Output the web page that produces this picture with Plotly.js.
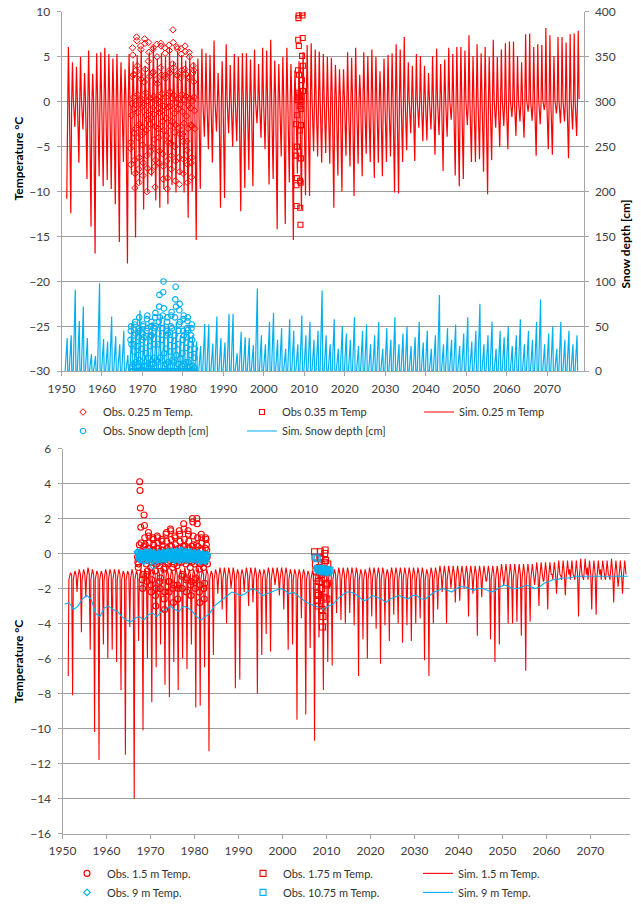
<!DOCTYPE html>
<html><head><meta charset="utf-8">
<script src="https://cdn.plot.ly/plotly-3.0.1.min.js"></script>
<style>html,body{margin:0;padding:0;background:#fff;width:641px;height:907px;overflow:hidden}#chart{width:641px;height:907px;display:block;overflow:hidden}</style>
</head><body><div id="chart"></div>
<script>
// ---------------- DATA ----------------
const simStartYear = 1951;
// Top chart: simulated 0.25 m temperature, annual summer maxima and winter minima (°C)
const sim025Max = [6.1,4.4,3.9,5.0,3.2,5.7,3.1,5.4,5.5,6.0,5.3,4.8,5.3,4.4,3.6,5.3,
  4.5,5.2,5.8,4.0,5.5,6.2,4.8,5.4,5.0,6.0,4.5,5.6,5.2,4.6,5.0,4.4,
  4.8,5.9,5.4,5.2,6.8,3.2,4.5,6.4,4.1,5.3,5.0,5.4,5.4,4.7,5.8,4.2,6.0,5.7,6.9,4.6,4.2,5.0,6.0,4.2,3.5,4.5,5.5,6.3,6.5,5.8,5.6,
  5.3,5.0,4.9,4.1,3.6,3.6,5.5,4.9,6.0,3.0,5.5,5.1,5.8,5.0,3.4,4.8,5.2,5.4,6.4,5.8,7.2,4.4,4.0,5.3,5.1,4.0,3.2,5.1,5.9,4.2,4.7,6.0,
  5.3,6.1,6.1,5.7,7.4,5.1,6.4,5.4,6.1,5.0,6.9,5.0,5.8,6.5,6.7,6.7,5.1,4.4,7.5,7.6,6.1,6.4,6.3,8.2,7.4,5.1,7.2,7.2,6.6,7.5,7.6,7.9];
const sim025Min = [-10.8,-12.4,-2.8,-6.8,-3.1,-8.6,-13.9,-16.9,-8.3,-9.4,-8.7,-9.7,-11.4,-15.6,-6.7,-18.0,
  -8.1,-15.1,-9.2,-12.0,-10.1,-8.3,-11.0,-11.8,-9.7,-11.4,-9.3,-10.1,-8.1,-10.1,-12.9,-10.0,
  -15.4,-9.7,-3.9,-5.3,-6.8,-3.3,-11.8,-10.7,-3.5,-5.0,-4.4,-12.2,-9.6,-7.6,-9.4,-2.4,-4.0,-5.3,-9.2,-8.6,-14.2,-6.1,-13.6,-9.0,-15.4,-8.0,-12.0,-10.4,-10.5,-5.5,-6.1,
  -6.8,-5.7,-6.9,-11.8,-8.2,-10.0,-6.0,-7.2,-10.5,-6.9,-8.3,-5.8,-6.7,-8.5,-6.8,-8.3,-6.7,-6.1,-10.1,-10.2,-6.7,-5.4,-3.5,-6.6,-2.9,-4.4,-4.3,-3.1,-5.9,-3.7,-7.7,-3.9,
  -2.0,-8.2,-9.4,-8.6,-2.6,-6.7,-6.7,-6.4,-7.8,-10.3,-6.5,-2.9,-5.0,-2.7,-5.3,-1.7,-3.8,-2.2,-4.0,-1.1,-2.1,-6.0,-2.5,-0.9,-5.3,-5.9,-1.3,-2.4,-2.2,-6.3,-3.1,-3.8];
const sim025SpringLevel = -0.3;   // level between winter minimum and summer peak
const sim025AutumnLevel = 0.3;    // level after the summer peak

// Simulated snow depth, annual maxima (cm)
const simSnowMax = [37,40,91,56,72,37,19,17,98,36,33,61,39,30,45,18,
  53,48,68,45,40,55,50,60,58,50,45,55,40,50,45,40,
  33,28,53,52,31,61,37,32,64,64,20,44,38,37,29,92,40,30,55,65,35,48,25,58,45,30,62,40,55,35,45,
  90,40,30,58,25,50,42,35,60,28,45,52,30,40,55,25,48,35,60,30,42,50,28,38,55,32,45,25,40,85,30,48,
  35,52,28,42,60,33,45,75,30,40,55,25,45,38,50,28,40,58,30,45,35,55,80,30,42,50,25,55,35,45,30,40];

// Observed 0.25 m temperature, monthly (°C), years 1967-1982
const obsYears = [1967,1968,1969,1970,1971,1972,1973,1974,1975,1976,1977,1978,1979,1980,1981,1982];
const obs025Values = [
  [-5.2,-7.0,-4.5,-1.5,-0.2,2.8,6.0,5.2,3.0,0.5,-0.8,-3.5],
  [-6.5,-9.6,-8.0,-3.0,-0.3,3.5,7.2,6.8,4.0,0.8,-1.2,-4.0],
  [-7.5,-9.0,-6.2,-2.5,0.2,3.0,6.2,5.8,2.5,0.3,-0.6,-2.8],
  [-4.8,-8.2,-6.8,-3.5,-0.4,2.2,7.0,6.5,3.6,1.0,-1.5,-3.2],
  [-6.0,-10.0,-7.4,-2.0,0.1,4.5,6.6,5.5,2.8,0.4,-0.9,-2.5],
  [-5.5,-7.8,-5.0,-1.8,-0.2,3.2,5.8,6.0,3.3,0.6,-1.4,-4.2],
  [-7.2,-9.5,-6.5,-2.8,0.3,2.5,6.4,5.0,2.0,0.2,-0.7,-3.0],
  [-4.0,-6.8,-5.5,-1.2,0.0,3.8,6.5,6.2,3.0,0.9,-1.0,-2.2],
  [-5.8,-8.6,-7.2,-3.2,-0.5,2.9,6.0,5.4,2.6,0.5,-1.8,-3.8],
  [-6.6,-9.7,-8.5,-4.5,-0.6,3.4,6.3,5.7,3.2,1.1,-0.5,-2.7],
  [-4.6,-7.5,-6.0,-2.2,0.4,4.2,8.0,6.6,3.8,0.7,-1.3,-3.4],
  [-5.0,-8.8,-6.6,-2.6,-0.1,3.0,6.1,5.9,2.9,0.3,-0.8,-2.9],
  [-6.2,-9.2,-7.8,-3.6,-0.3,2.7,5.9,5.3,3.5,0.8,-1.1,-3.6],
  [-4.4,-8.0,-6.4,-2.4,0.2,3.6,6.2,5.6,3.1,0.6,-1.6,-4.4],
  [-5.4,-9.0,-7.0,-3.0,-0.4,2.6,5.5,5.0,2.7,0.4,-0.7,-2.6],
  [-6.8,-8.4,-6.2,-2.7,0.1,3.2,4.0,3.5,2.2,0.5,-1.0,-3.0]];

// Observed snow depth, monthly (cm), years 1967-1982
const obsSnowValues = [
  [35,45,50,30,5,0,0,0,0,8,22,30],
  [40,52,55,42,10,0,0,0,0,5,18,28],
  [38,48,60,45,12,0,0,0,2,10,25,35],
  [42,50,52,38,6,0,0,0,0,6,20,32],
  [45,58,62,48,15,0,0,0,0,8,28,38],
  [40,50,55,40,8,0,0,0,0,4,15,30],
  [48,60,65,50,12,0,0,0,0,10,30,42],
  [55,72,85,60,15,0,0,0,0,12,35,48],
  [62,88,100,70,20,0,0,0,0,8,25,40],
  [45,55,60,42,10,0,0,0,0,6,22,35],
  [50,62,66,48,12,0,0,0,0,10,28,40],
  [60,80,94,72,18,0,0,0,0,8,30,45],
  [52,68,75,55,14,0,0,0,0,6,20,35],
  [45,58,62,40,8,0,0,0,0,10,26,38],
  [48,56,60,46,10,0,0,0,0,5,18,30],
  [40,48,52,35,6,0,0,0,0,4,15,25]];

// Observed 0.35 m temperature (°C)
const obs035Time = [2007.95,2008.0,2008.05,2008.1,2008.15,2008.2,2008.25,2008.3,2008.35,2008.4,2008.45,2008.5,2008.55,2008.6,2008.65,2008.7,2008.75,2008.8,2008.85,2008.9,2008.95,2009.0,2009.05,2009.1,2009.15,2009.2,2009.25,2009.3,2009.35,2009.4,2009.45,2009.5,2009.55,2009.6,2009.65,2009.7];
const obs035Value = [-2.5,-6.0,-9.3,-11.6,-8.5,-5.0,-1.5,0.2,0.5,1.0,3.5,6.9,9.3,9.6,6.2,3.0,0.8,0.2,-0.5,-3.2,-8.8,-11.8,-13.7,-9.0,-6.3,-2.6,-0.8,0.0,0.6,2.4,5.1,9.9,9.6,7.1,4.0,1.2];

// Bottom chart: simulated 1.5 m temperature, annual minima and maxima (°C)
const sim15Min = [-7.0,-8.1,-2.2,-4.5,-2.5,-5.5,-10.2,-11.8,-5.2,-6.0,-5.5,-6.2,-7.8,-11.5,-4.2,-14.0,-5.0,-10.1,-6.0,-8.5,-6.5,-5.2,-7.5,-8.2,-6.2,-7.8,-6.0,-6.6,-5.2,-8.8,-8.7,-6.5,-11.3,
  -5.8,-2.3,-3.2,-4.0,-2.0,-7.7,-7.2,-2.2,-3.0,-2.8,-8.0,-5.8,-4.6,-5.6,-1.8,-2.4,-3.2,-5.5,-5.2,-9.5,-3.7,-9.2,-5.4,-10.7,-4.8,-7.8,-6.2,-6.4,-3.4,-3.8,
  -4.0,-3.4,-4.1,-7.0,-4.9,-6.0,-3.6,-4.3,-6.3,-4.1,-5.0,-3.5,-4.0,-5.1,-4.1,-5.0,-4.0,-3.7,-6.1,-7.0,-4.0,-3.2,-2.2,-4.0,-2.0,-2.8,-2.7,-2.0,-3.6,-2.3,-4.7,-2.5,
  -1.6,-4.9,-6.2,-5.2,-1.8,-4.0,-4.0,-3.9,-4.7,-6.7,-3.9,-1.8,-3.0,-1.6,-3.2,-1.2,-2.3,-1.3,-2.4,-0.9,-1.3,-3.6,-1.5,-0.8,-3.2,-3.5,-0.9,-1.4,-1.3,-2.8,-1.9,-2.3];
const sim15Max = [-1.1,-1.0,-0.9,-0.9,-0.8,-0.9,-1.0,-1.0,-0.9,-0.9,
  -0.9,-0.9,-1.0,-1.0,-0.9,-1.0,-0.9,-0.9,-0.8,-0.9,
  -0.9,-0.8,-0.9,-0.9,-0.8,-0.9,-0.8,-0.9,-0.9,-0.8,
  -0.9,-0.9,-1.0,-0.9,-0.8,-0.8,-0.8,-0.8,-0.9,-0.9,
  -0.8,-0.8,-0.8,-0.9,-0.9,-0.8,-0.8,-0.8,-0.8,-0.8,
  -0.9,-0.9,-0.9,-0.9,-1.0,-1.0,-1.0,-0.9,-0.9,-0.9,
  -0.9,-0.8,-0.8,-0.8,-0.8,-0.8,-0.9,-0.9,-0.8,-0.8,
  -0.8,-0.8,-0.9,-0.8,-0.8,-0.8,-0.8,-0.8,-0.8,-0.8,
  -0.8,-0.9,-0.8,-0.8,-0.7,-0.7,-0.7,-0.7,-0.7,-0.7,
  -0.7,-0.7,-0.7,-0.7,-0.7,-0.7,-0.7,-0.7,-0.6,-0.6,
  -0.6,-0.6,-0.6,-0.6,-0.6,-0.6,-0.5,-0.5,-0.5,-0.5,
  -0.5,-0.4,-0.4,-0.4,-0.4,-0.4,-0.3,-0.3,-0.4,-0.4,
  -0.4,-0.4,-0.4,-0.3,-0.4,-0.4,-0.4];
const sim15RecoveryLevel = -1.5;
const sim15LateLevel = -1.2;

// Simulated 9 m temperature, annual (°C), 1950-2078
const sim9StartYear = 1950;
const sim9Values = [-2.9,-2.8,-3.2,-3.0,-2.6,-2.4,-2.6,-3.4,-3.6,-3.1,-3.0,-3.2,-3.3,-3.6,-3.8,-3.9,-3.7,-3.6,-3.8,-3.5,-3.4,-3.6,-3.3,-3.2,-3.0,-3.2,-3.3,-3.0,-3.1,-3.3,-3.6,-3.8,-3.6,-3.4,-3.0,-2.8,-2.6,-2.4,-2.2,-2.3,-2.4,-2.3,-2.1,-2.0,-2.2,-2.4,-2.3,-2.2,-2.1,-2.0,-2.1,-2.3,-2.2,-2.4,-2.6,-2.8,-2.9,-3.0,-3.1,-3.2,-3.0,-2.9,-2.6,-2.4,-2.2,-2.2,-2.3,-2.5,-2.7,-2.6,-2.4,-2.5,-2.6,-2.8,-2.6,-2.5,-2.4,-2.5,-2.6,-2.4,-2.4,-2.6,-2.6,-2.4,-2.2,-2.1,-2.0,-2.1,-2.2,-2.0,-1.9,-1.9,-2.0,-2.1,-2.0,-2.0,-2.1,-2.2,-2.1,-1.9,-1.8,-1.9,-2.0,-2.0,-1.9,-1.8,-1.9,-2.0,-1.9,-1.7,-1.6,-1.5,-1.5,-1.4,-1.4,-1.4,-1.3,-1.3,-1.3,-1.3,-1.3,-1.3,-1.3,-1.3,-1.3,-1.3,-1.3,-1.3,-1.3];

// Observed 1.5 m temperature, monthly (°C), 1967-1982
const obs15Values = [
  [-0.2,-0.5,-0.8,-0.6,-0.3,0.5,4.1,3.6,2.6,1.5,0.6,0.1],
  [-0.4,-1.5,-2.0,-1.2,-0.3,0.4,2.2,1.6,0.9,0.5,0.2,-0.2],
  [-0.6,-1.2,-1.6,-1.0,-0.4,0.3,1.2,1.0,0.6,0.3,0.0,-0.3],
  [-0.8,-1.8,-2.2,-1.5,-0.5,0.2,0.9,0.8,0.5,0.2,-0.1,-0.4],
  [-1.0,-2.4,-3.0,-2.0,-0.6,0.3,1.0,0.9,0.6,0.3,0.0,-0.5],
  [-0.7,-1.6,-2.0,-1.4,-0.4,0.2,0.8,0.7,0.4,0.2,-0.1,-0.4],
  [-0.9,-2.6,-3.2,-2.2,-0.8,0.1,1.1,1.2,0.7,0.3,0.0,-0.5],
  [-0.6,-1.6,-2.2,-1.6,-0.4,0.4,1.4,1.3,0.8,0.4,0.1,-0.3],
  [-0.8,-2.0,-2.8,-1.8,-0.6,0.2,1.0,0.9,0.5,0.2,-0.1,-0.4],
  [-0.7,-1.8,-2.6,-2.0,-0.5,0.3,1.3,1.1,0.7,0.3,0.0,-0.3],
  [-0.5,-1.3,-2.0,-1.2,-0.3,0.4,1.7,1.4,0.8,0.4,0.1,-0.2],
  [-0.6,-1.5,-2.2,-1.4,-0.4,0.3,1.3,1.1,0.7,0.3,0.0,-0.4],
  [-0.8,-1.8,-2.4,-1.6,-0.5,0.4,2.0,1.8,1.0,0.5,0.1,-0.3],
  [-0.6,-1.5,-2.0,-1.4,-0.4,0.5,2.0,1.7,0.9,0.4,0.0,-0.5],
  [-0.9,-2.2,-2.8,-1.8,-0.6,0.2,1.1,0.9,0.6,0.2,-0.1,-0.5],
  [-0.8,-2.0,-2.6,-1.7,-0.5,0.3,0.9,0.8,0.5,0.2,-0.2,-0.6]];

// Observed 9 m temperature, monthly (°C), 1967-1982
const obs9Values = [
  [0.1,0.05,0.0,-0.1,-0.2,-0.3,-0.35,-0.3,-0.2,-0.1,0.0,0.05],
  [0.0,-0.05,-0.15,-0.25,-0.4,-0.45,-0.35,-0.2,-0.05,0.05,0.1,0.0],
  [0.05,0.0,-0.1,-0.2,-0.3,-0.4,-0.3,-0.25,-0.1,0.0,0.1,0.1],
  [0.0,-0.1,-0.2,-0.3,-0.35,-0.4,-0.7,-0.3,-0.15,-0.05,0.05,0.0],
  [-0.05,-0.1,-0.2,-0.25,-0.35,-0.4,-0.35,-0.2,-0.1,0.0,0.05,0.0],
  [0.0,-0.05,-0.1,-0.2,-0.3,-0.4,-0.3,-0.2,-0.1,0.0,0.05,0.05],
  [0.05,0.0,-0.1,-0.2,-0.3,-0.35,-0.3,-0.2,-0.05,0.0,0.1,0.1],
  [0.1,0.05,-0.05,-0.15,-0.25,-0.3,-0.3,-0.2,-0.1,0.05,0.15,0.1],
  [0.05,0.0,-0.1,-0.2,-0.3,-0.4,-0.35,-0.25,-0.1,0.0,0.1,0.15],
  [0.1,0.0,-0.1,-0.25,-0.35,-0.4,-0.3,-0.2,-0.05,0.05,0.15,0.2],
  [0.15,0.05,-0.05,-0.15,-0.3,-0.35,-0.3,-0.2,-0.05,0.05,0.1,0.1],
  [0.1,0.0,-0.1,-0.2,-0.3,-0.4,-0.3,-0.2,-0.1,0.0,0.1,0.1],
  [0.05,0.0,-0.1,-0.2,-0.3,-0.35,-0.3,-0.2,-0.1,0.0,0.05,0.05],
  [0.0,-0.05,-0.15,-0.25,-0.35,-0.4,-0.35,-0.2,-0.1,0.0,0.05,0.0],
  [0.0,-0.1,-0.2,-0.3,-0.4,-0.45,-0.4,-0.3,-0.2,-0.1,0.0,-0.05],
  [-0.1,-0.15,-0.25,-0.35,-0.4,-0.45,-0.4,-0.3,-0.2,-0.1,-0.05,-0.1]];

// Observed 1.75 m temperature (°C)
const obs175Time = [2007.3,2007.4,2007.5,2007.6,2007.7,2007.8,2007.9,2008.0,2008.1,2008.2,2008.3,2008.4,2008.5,2008.6,2008.7,2008.8,2008.9,2009.0,2009.1,2009.2,2009.3,2009.4,2009.5,2009.6,2009.7,2009.8,2009.9,2010.0,2010.1,2010.2,2010.3];
const obs175Value = [0.1,-0.2,-0.6,-1.0,-1.4,-1.9,-2.3,-2.7,-3.0,-2.4,-1.6,-0.8,-0.2,0.1,-0.3,-1.2,-2.0,-3.2,-4.2,-3.6,-2.5,-1.4,-0.5,0.0,0.2,-0.4,-1.1,-1.8,-2.6,-1.7,-0.6];

// Observed 10.75 m temperature (°C)
const obs1075Time = [2007.6,2007.9,2008.0,2008.2,2008.4,2008.6,2008.8,2009.0,2009.2,2009.4,2009.6,2009.8,2010.0,2010.2,2010.4,2010.6,2010.8];
const obs1075Value = [-0.2,-0.3,-0.85,-0.9,-0.95,-1.0,-0.9,-0.85,-0.95,-1.05,-1.0,-0.9,-0.95,-1.0,-1.1,-1.0,-0.95];

const decadeTicks = [1950,1960,1970,1980,1990,2000,2010,2020,2030,2040,2050,2060,2070];

// ---------------- BUILD ----------------
const RED = '#FF0000', BLUE = '#00B0F0';
const FONT = 'Lato, "Liberation Sans", sans-serif';
const W = 641, H = 907;
const px = v => v / W, py = v => 1 - v / H;

function monthly(years, rows) {
  const x = [], y = [];
  rows.forEach((row, i) => row.forEach((v, m) => { x.push(years[i] + (m + 0.5) / 12); y.push(v); }));
  return {x, y};
}

const t025 = {x: [], y: []};
sim025Min.forEach((mn, i) => {
  const yr = simStartYear + i;
  t025.x.push(yr + 0.3, yr + 0.5, yr + 0.7, yr + 0.92);
  t025.y.push(mn, sim025SpringLevel, sim025Max[i], sim025AutumnLevel);
});

const snow = {x: [], y: []};
simSnowMax.forEach((mx, i) => {
  const yr = simStartYear + i;
  snow.x.push(yr - 0.1, yr + 0.4, yr + 0.55);
  snow.y.push(0, mx, 0);
});

const t15 = {x: [], y: []};
sim15Min.forEach((mn, i) => {
  const yr = simStartYear + i;
  t15.x.push(yr + 0.3, yr + 0.45, yr + 0.8, yr + 1.08);
  t15.y.push(mn, sim15RecoveryLevel, sim15Max[i], sim15LateLevel);
});

const t9 = {x: sim9Values.map((v, i) => sim9StartYear + i + 0.5), y: sim9Values};

const o025 = monthly(obsYears, obs025Values);
const oSnow = monthly(obsYears, obsSnowValues);
const o15 = monthly(obsYears, obs15Values);
const o9 = monthly(obsYears, obs9Values);

const data = [
  {x: t025.x, y: t025.y, type: 'scatter', mode: 'lines', name: 'Sim. 0.25 m Temp', line: {color: RED, width: 1.2}, xaxis: 'x', yaxis: 'y', legend: 'legend3', legendrank: 1},
  {x: snow.x, y: snow.y, type: 'scatter', mode: 'lines', name: 'Sim. Snow depth [cm]', line: {color: BLUE, width: 1.2}, xaxis: 'x', yaxis: 'y2', legend: 'legend2', legendrank: 2},
  {x: oSnow.x, y: oSnow.y, type: 'scatter', mode: 'markers', name: 'Obs. Snow depth [cm]', marker: {symbol: 'circle-open', color: BLUE, size: 5.5, line: {width: 1.1}}, xaxis: 'x', yaxis: 'y2', legend: 'legend', legendrank: 2},
  {x: o025.x, y: o025.y, type: 'scatter', mode: 'markers', name: 'Obs. 0.25 m Temp.', marker: {symbol: 'diamond-open', color: RED, size: 5, line: {width: 1}}, xaxis: 'x', yaxis: 'y', legend: 'legend', legendrank: 1},
  {x: obs035Time, y: obs035Value, type: 'scatter', mode: 'markers', name: 'Obs 0.35 m Temp', marker: {symbol: 'square-open', color: RED, size: 5, line: {width: 1.1}}, xaxis: 'x', yaxis: 'y', legend: 'legend2', legendrank: 1},

  {x: t15.x, y: t15.y, type: 'scatter', mode: 'lines', name: 'Sim. 1.5 m Temp.', line: {color: RED, width: 1.1}, xaxis: 'x2', yaxis: 'y3', legend: 'legend6', legendrank: 1},
  {x: t9.x, y: t9.y, type: 'scatter', mode: 'lines', name: 'Sim. 9 m Temp.', line: {color: BLUE, width: 1.1}, xaxis: 'x2', yaxis: 'y3', legend: 'legend6', legendrank: 2},
  {x: o15.x, y: o15.y, type: 'scatter', mode: 'markers', name: 'Obs. 1.5 m Temp.', marker: {symbol: 'circle-open', color: RED, size: 6, line: {width: 1.1}}, xaxis: 'x2', yaxis: 'y3', legend: 'legend4', legendrank: 1},
  {x: o9.x, y: o9.y, type: 'scatter', mode: 'markers', name: 'Obs. 9 m Temp.', marker: {symbol: 'diamond-open', color: BLUE, size: 5, line: {width: 1.1}}, xaxis: 'x2', yaxis: 'y3', legend: 'legend4', legendrank: 2},
  {x: obs175Time, y: obs175Value, type: 'scatter', mode: 'markers', name: 'Obs. 1.75 m Temp.', marker: {symbol: 'square-open', color: RED, size: 6, line: {width: 1.1}}, xaxis: 'x2', yaxis: 'y3', legend: 'legend5', legendrank: 1},
  {x: obs1075Time, y: obs1075Value, type: 'scatter', mode: 'markers', name: 'Obs. 10.75 m Temp.', marker: {symbol: 'square-open', color: BLUE, size: 6, line: {width: 1.1}}, xaxis: 'x2', yaxis: 'y3', legend: 'legend5', legendrank: 2}
];

const tickFont = {family: FONT, size: 12, color: '#404040'};
const GRID = '#9E9E9E', AXL = '#A6A6A6';
const xCommon = {range: [1950, 2079], tickvals: decadeTicks, ticktext: decadeTicks.map(String), showgrid: false, zeroline: false,
  showline: true, linecolor: AXL, linewidth: 1, ticks: 'outside', ticklen: 4, tickcolor: AXL, tickfont: tickFont, ticklabelstandoff: 2};
const legFont = {family: FONT, size: 11, color: '#333333'};
function leg(x, y) { return {x: px(x), y: py(y), xanchor: 'left', yanchor: 'top', orientation: 'v', font: legFont, bgcolor: 'rgba(0,0,0,0)', itemwidth: 30, tracegroupgap: 0}; }
const titleFont = {family: FONT, size: 12, color: '#000'};

const layout = {
  width: W, height: H, margin: {l: 0, r: 0, t: 0, b: 0}, paper_bgcolor: '#fff', plot_bgcolor: '#fff',
  xaxis: Object.assign({}, xCommon, {domain: [px(61.5), px(583.5)], anchor: 'y'}),
  yaxis: {domain: [py(375), py(12)], range: [-30, 10], dtick: 5, tick0: 0, showgrid: true, gridcolor: GRID, gridwidth: 1, zeroline: false,
    showline: true, linecolor: AXL, linewidth: 1, ticks: 'outside', ticklen: 4, tickcolor: AXL, tickfont: tickFont, ticklabelstandoff: 4, anchor: 'x'},
  yaxis2: {overlaying: 'y', side: 'right', anchor: 'x', range: [0, 400], dtick: 50, tick0: 0, showgrid: false, zeroline: false,
    showline: true, linecolor: AXL, linewidth: 1, ticks: 'outside', ticklen: 4, tickcolor: AXL, tickfont: tickFont, ticklabelstandoff: 4},
  xaxis2: Object.assign({}, xCommon, {domain: [px(62.5), px(630)], anchor: 'y3'}),
  yaxis3: {domain: [py(842), py(453)], range: [-16, 6], dtick: 2, tick0: 0, showgrid: true, gridcolor: GRID, gridwidth: 1, zeroline: false,
    showline: true, linecolor: AXL, linewidth: 1, ticks: 'outside', ticklen: 4, tickcolor: AXL, tickfont: tickFont, ticklabelstandoff: 4, anchor: 'x2'},
  legend: leg(63, 401.5), legend2: leg(242, 401.5), legend3: leg(419, 401.5),
  legend4: leg(67, 867.5), legend5: leg(243, 867.5), legend6: leg(418, 867.5),
  showlegend: true,
  annotations: [
    {text: '<b>Temperature °C</b>', xref: 'paper', yref: 'paper', x: px(18), y: py(160), xanchor: 'center', yanchor: 'middle', textangle: -90, showarrow: false, font: titleFont},
    {text: '<b>Snow depth [cm]</b>', xref: 'paper', yref: 'paper', x: px(626), y: py(247), xanchor: 'center', yanchor: 'middle', textangle: -90, showarrow: false, font: titleFont},
    {text: '<b>Temperature °C</b>', xref: 'paper', yref: 'paper', x: px(18), y: py(668), xanchor: 'center', yanchor: 'middle', textangle: -90, showarrow: false, font: titleFont}
  ]
};

Plotly.newPlot('chart', data, layout, {displayModeBar: false, staticPlot: true});
</script></body></html>
